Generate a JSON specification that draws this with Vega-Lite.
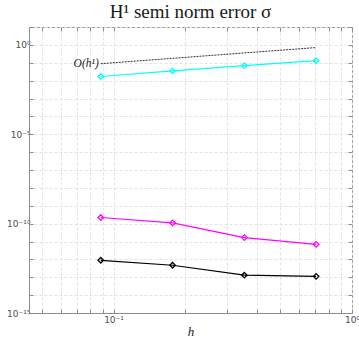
{
  "$schema": "https://vega.github.io/schema/vega-lite/v6.json",
  "width": 323,
  "height": 286,
  "autosize": "none",
  "padding": {"left": 29, "top": 27, "right": 7, "bottom": 33},
  "background": "white",
  "config": {
    "view": {"stroke": "#8c8c8c", "strokeWidth": 1},
    "axis": {
      "domainColor": "#8c8c8c",
      "tickColor": "#8c8c8c",
      "gridColor": "#e3e3e3",
      "gridDash": [3, 2],
      "labelFont": "DejaVu Sans",
      "labelFontSize": 9,
      "labelColor": "#4d4d4d",
      "tickSize": -4
    }
  },
  "title": {
    "text": "H¹ semi norm error σ",
    "font": "Liberation Serif, DejaVu Serif",
    "fontSize": 19,
    "fontWeight": "normal",
    "color": "#1a1a1a",
    "offset": 1
  },
  "datasets": {
    "err": [
      {"series": "s1", "h": 0.0884, "err": 0.017},
      {"series": "s1", "h": 0.1768, "err": 0.035},
      {"series": "s1", "h": 0.3536, "err": 0.069},
      {"series": "s1", "h": 0.7071, "err": 0.13},
      {"series": "s2", "h": 0.0884, "err": 2.2e-10},
      {"series": "s2", "h": 0.1768, "err": 1.1e-10},
      {"series": "s2", "h": 0.3536, "err": 1.65e-11},
      {"series": "s2", "h": 0.7071, "err": 6.9e-12},
      {"series": "s3", "h": 0.0884, "err": 8.9e-13},
      {"series": "s3", "h": 0.1768, "err": 4.7e-13},
      {"series": "s3", "h": 0.3536, "err": 1.3e-13},
      {"series": "s3", "h": 0.7071, "err": 1.12e-13}
    ],
    "ref": [
      {"h": 0.0884, "err": 0.0884, "label": "O(h¹)"},
      {"h": 0.7071, "err": 0.7071, "label": ""}
    ]
  },
  "layer": [
    {
      "data": {"name": "err"},
      "mark": {"type": "line", "strokeWidth": 1.2, "point": {"shape": "diamond", "filled": false, "size": 30, "strokeWidth": 1.3}},
      "encoding": {
        "x": {
          "field": "h", "type": "quantitative",
          "scale": {"type": "log", "domain": [0.0442, 1], "nice": false},
          "axis": {
            "values": [0.05, 0.06, 0.07, 0.08, 0.09, 0.1, 0.2, 0.3, 0.4, 0.5, 0.6, 0.7, 0.8, 0.9, 1],
            "labelExpr": "abs(datum.value - 0.1) < 1e-9 ? '10⁻¹' : abs(datum.value - 1) < 1e-9 ? '10⁰' : ''",
            "title": "h",
            "titleFont": "Liberation Serif, DejaVu Serif",
            "titleFontStyle": "italic",
            "titleFontWeight": "normal",
            "titleFontSize": 13,
            "titleColor": "#1a1a1a",
            "titlePadding": 1,
            "labelPadding": 6,
            "labelOverlap": false,
            "labelFlush": false
          }
        },
        "y": {
          "field": "err", "type": "quantitative",
          "scale": {"type": "log", "domain": [1e-15, 10], "nice": false},
          "axis": {
            "values": [1e-15, 1e-14, 1e-13, 1e-12, 1e-11, 1e-10, 1e-9, 1e-8, 1e-7, 1e-6, 1e-5, 1e-4, 1e-3, 1e-2, 1e-1, 1, 10],
            "labelExpr": "round(log(datum.value)/LN10) == 0 ? '10⁰' : round(log(datum.value)/LN10) == -5 ? '10⁻⁵' : round(log(datum.value)/LN10) == -10 ? '10⁻¹⁰' : round(log(datum.value)/LN10) == -15 ? '10⁻¹⁵' : ''",
            "title": null,
            "labelPadding": 3,
            "labelOverlap": false,
            "labelFlush": false
          }
        },
        "color": {
          "field": "series", "type": "nominal",
          "scale": {"domain": ["s1", "s2", "s3"], "range": ["#00ffff", "#ff00ff", "#000000"]},
          "legend": null
        },
        "detail": {"field": "series"}
      }
    },
    {
      "data": {"name": "ref"},
      "mark": {"type": "line", "color": "#333333", "strokeWidth": 1, "strokeDash": [2, 1]},
      "encoding": {
        "x": {"field": "h", "type": "quantitative", "axis": {"orient": "top", "values": [0.05, 0.06, 0.07, 0.08, 0.09, 0.1, 0.2, 0.3, 0.4, 0.5, 0.6, 0.7, 0.8, 0.9, 1], "labels": false, "grid": false, "domain": false, "title": null}},
        "y": {"field": "err", "type": "quantitative", "axis": {"orient": "right", "values": [1e-15, 1e-14, 1e-13, 1e-12, 1e-11, 1e-10, 1e-9, 1e-8, 1e-7, 1e-6, 1e-5, 1e-4, 1e-3, 1e-2, 1e-1, 1, 10], "labels": false, "grid": false, "domain": false, "title": null}}
      }
    },
    {
      "data": {"name": "ref"},
      "mark": {"type": "text", "align": "right", "baseline": "middle", "dx": -2, "font": "Liberation Serif, DejaVu Serif", "fontStyle": "italic", "fontSize": 11.5, "color": "#1a1a1a"},
      "encoding": {
        "x": {"field": "h", "type": "quantitative", "axis": null},
        "y": {"field": "err", "type": "quantitative", "axis": null},
        "text": {"field": "label"}
      }
    }
  ],
  "resolve": {"axis": {"x": "independent", "y": "independent"}}
}
